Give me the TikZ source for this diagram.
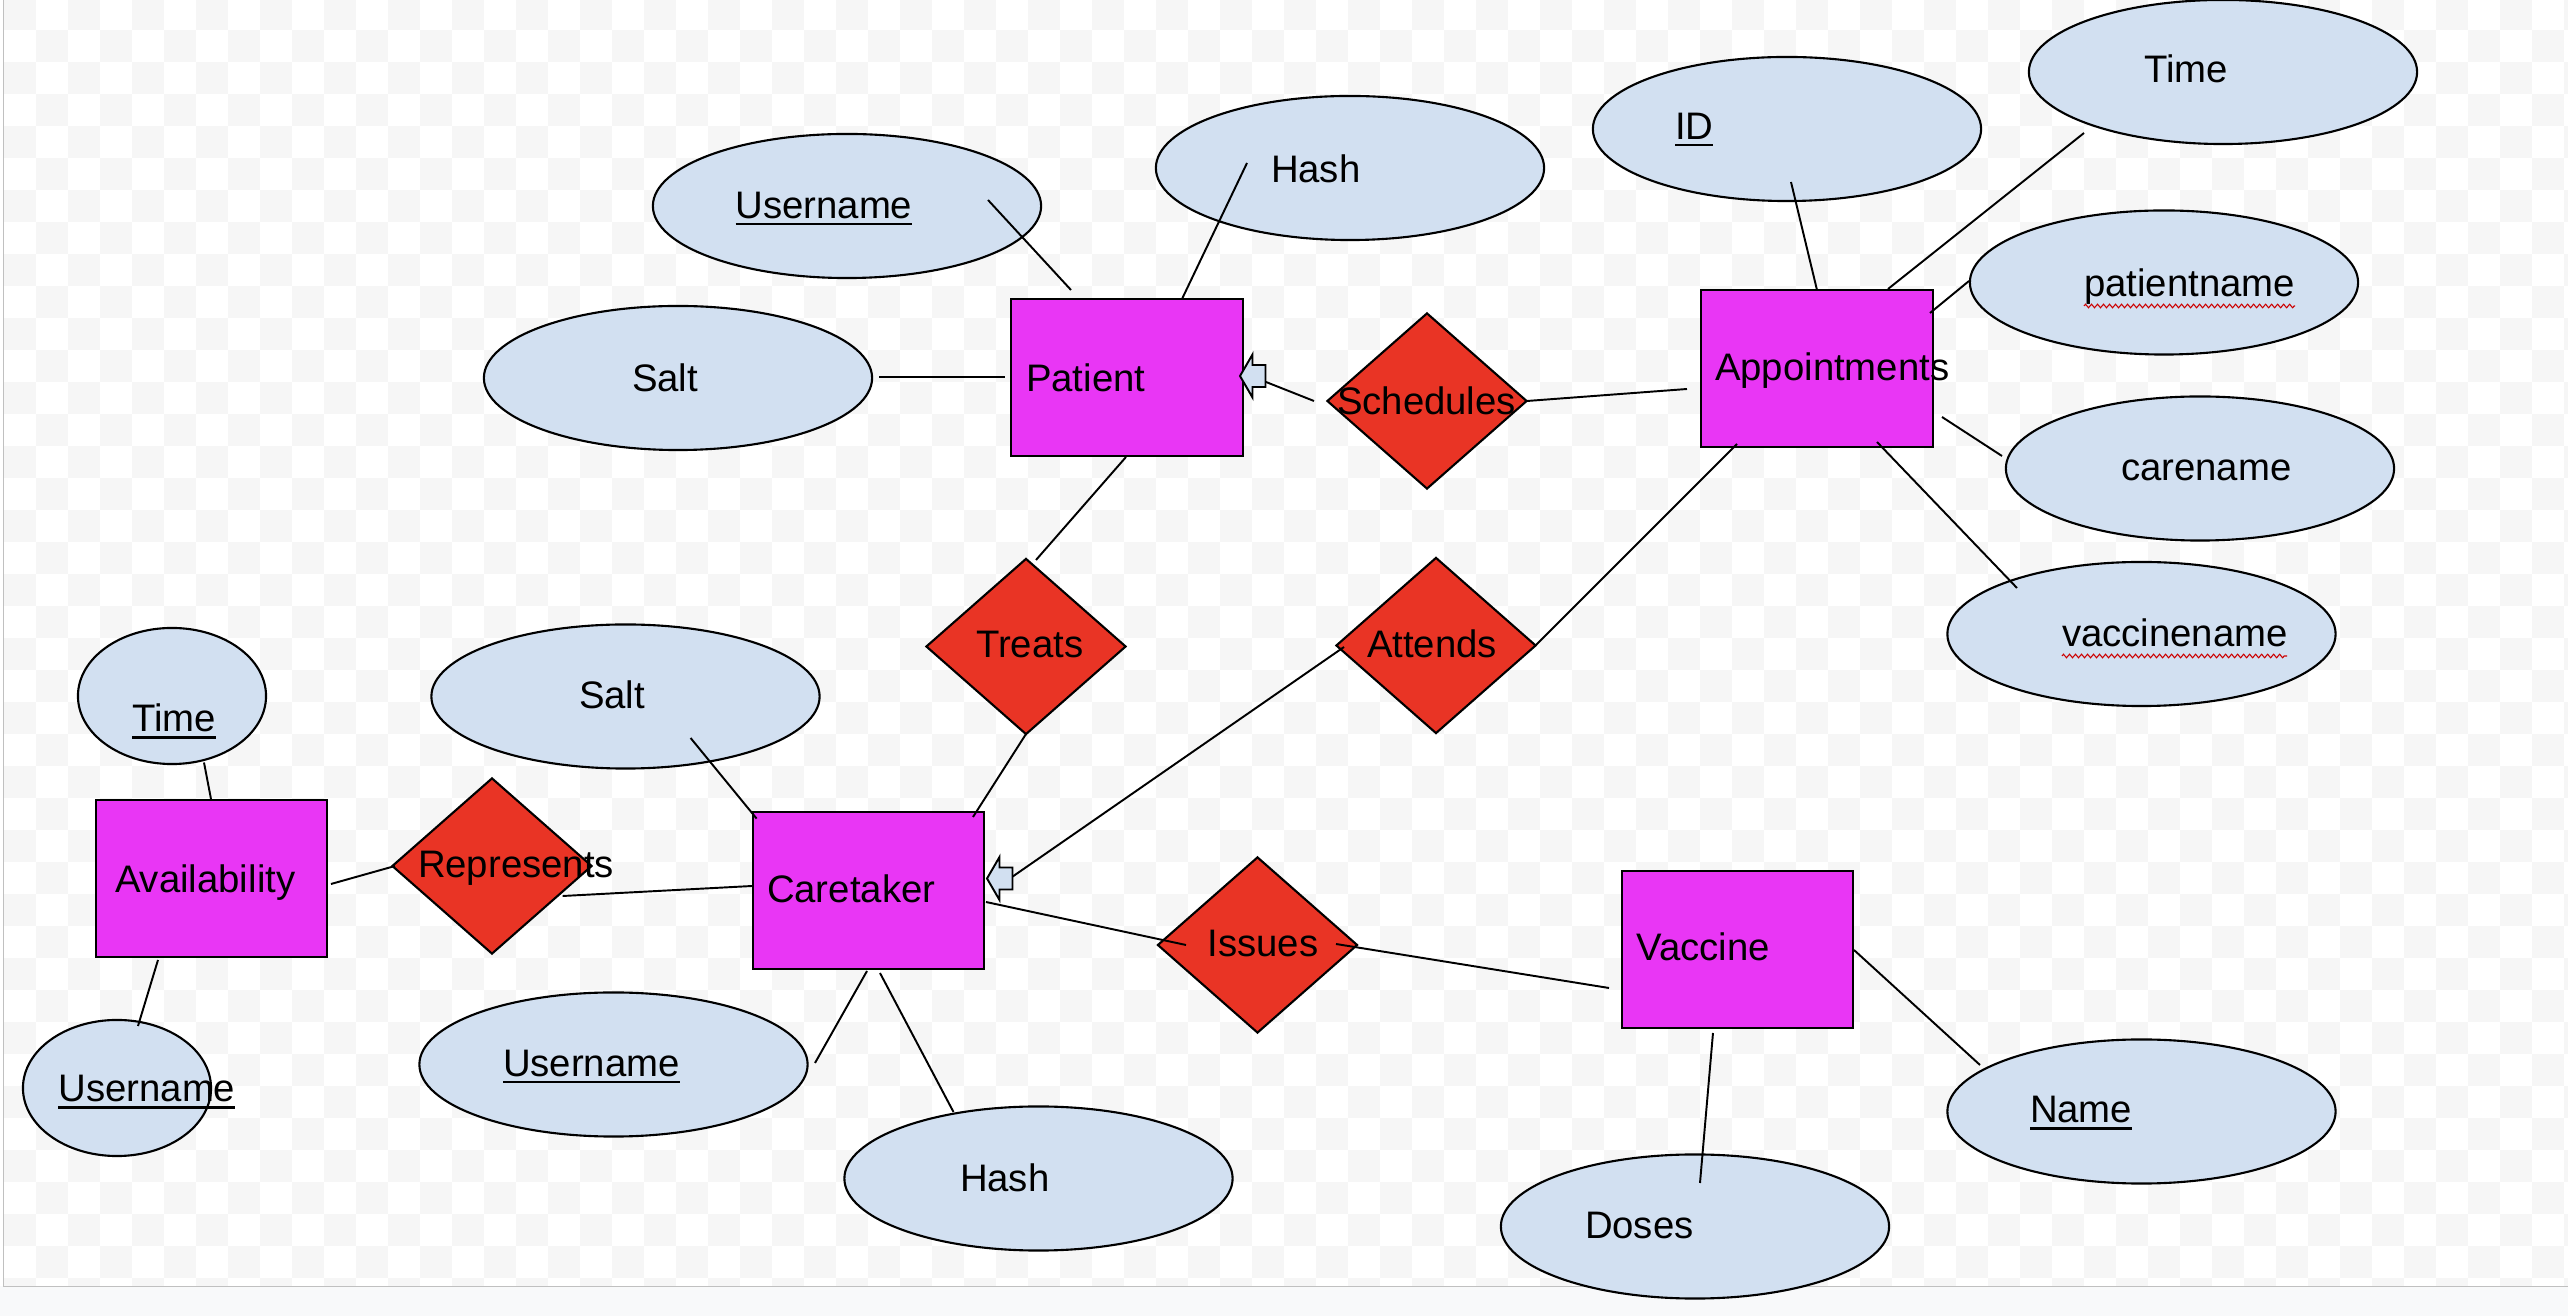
\documentclass[tikz,border=0pt]{standalone}
\usepackage{fontspec}
\setmainfont{Liberation Sans}
\usetikzlibrary{shapes.geometric,decorations.pathmorphing}
\definecolor{entc}{HTML}{E936F5}
\definecolor{relc}{HTML}{E93425}
\definecolor{attc}{HTML}{D2E0F1}
\definecolor{chk}{HTML}{F6F6F6}
\definecolor{pagebg}{HTML}{F8F9FA}
\definecolor{frame}{HTML}{C0C0C0}
\newcommand\keyul[1]{\setbox0\hbox{#1}\rlap{\rule[-0.065cm]{\wd0}{0.028cm}}\box0}
\tikzset{
  ent/.style={draw=black, fill=entc, minimum width=2.31cm, minimum height=1.57cm, inner sep=0pt, line width=0.6pt},
  rel/.style={diamond, draw=black, fill=relc, minimum width=2.0cm, minimum height=1.76cm, inner sep=0pt, line width=0.6pt},
  att/.style={ellipse, draw=black, fill=attc, minimum width=3.88cm, minimum height=1.44cm, inner sep=0pt, line width=0.6pt},
  attsm/.style={att, minimum width=1.88cm, minimum height=1.36cm},
  lbl/.style={anchor=base west, inner sep=0pt, outer sep=0pt, font=\fontsize{10.9}{13}\selectfont},
  conn/.style={line width=0.55pt, black},
  blk/.style={fill=attc, draw=black, line width=0.55pt, line join=miter},
  squig/.style={red!80!black, line width=0.3pt, decorate, decoration={zigzag, segment length=0.06cm, amplitude=0.018cm}}
}
\newcommand\blockarrow[1]{\filldraw[blk] (#1) -- ++(12.5,-21.5) -- ++(0,10.5) -- ++(13,0) -- ++(0,22) -- ++(-13,0) -- ++(0,10.5) -- cycle;}
\begin{document}
\begin{tikzpicture}[x=0.01cm, y=-0.01cm]
\useasboundingbox (0,0) rectangle (2568,1316);
% background
\fill[pagebg] (0,0) rectangle (2568,1316);
\fill[white] (0,0) rectangle (2568,1286);
\begin{scope}
\clip (3,0) rectangle (2568,1286);
\foreach \j in {0,...,40} {
  \pgfmathtruncatemacro\sta{mod(\j,2)}
  \pgfmathtruncatemacro\stb{\sta+2}
  \foreach \i in {\sta,\stb,...,80} {
    \fill[chk] ({4+32*\i},{-2+32*\j}) rectangle ++(32,32);
  }
}
\end{scope}
\draw[frame, line width=0.4pt] (3.3,0) -- (3.3,1286.5) -- (2568,1286.5);

% entities
\node[ent] (patient) at (1127,377.5) {};
\node[ent] (appt) at (1817,368.5) {};
\node[ent] (avail) at (211.5,878.5) {};
\node[ent] (care) at (868.5,890.5) {};
\node[ent] (vacc) at (1737.5,949.5) {};

% relationships
\node[rel] (sched) at (1427,401) {};
\node[rel] (treats) at (1026,646.5) {};
\node[rel] (attends) at (1436,645.5) {};
\node[rel] (repr) at (492,866) {};
\node[rel] (issues) at (1257.5,945) {};

% attributes
\node[att] (uP) at (847,206) {};
\node[att] (hP) at (1350,168) {};
\node[att] (sP) at (678,378) {};
\node[att] (idA) at (1787,129) {};
\node[att] (tA) at (2223,72) {};
\node[att] (pn) at (2164,282.5) {};
\node[att] (cn) at (2200,468.5) {};
\node[att] (vn) at (2141.5,634) {};
\node[att] (sC) at (625.5,696.5) {};
\node[att] (uC) at (613.5,1064.5) {};
\node[att] (hC) at (1038.5,1178.5) {};
\node[att] (dV) at (1695,1226.5) {};
\node[att] (nV) at (2141.5,1111.5) {};
\node[attsm] (tAv) at (172,696) {};
\node[attsm] (uAv) at (117,1088) {};

% connector end points
\coordinate (uP1) at (988,200);   \coordinate (uP2) at (1071,290);
\coordinate (hP1) at (1247,163);  \coordinate (hP2) at (1182,299);
\coordinate (sP1) at (879,377);   \coordinate (sP2) at (1005,377);
\coordinate (pt1) at (1126,457);  \coordinate (pt2) at (1036,560);
\coordinate (tc1) at (1026,734);  \coordinate (tc2) at (973,817);
\coordinate (sp1) at (1314,401);  \coordinate (sp2) at (1266,382);
\coordinate (patip) at (1240,376);
\coordinate (sa1) at (1527,401);  \coordinate (sa2) at (1687,389);
\coordinate (id1) at (1791,182);  \coordinate (id2) at (1817,290);
\coordinate (ta1) at (2084,133);  \coordinate (ta2) at (1888,289);
\coordinate (pn1) at (1969,281);  \coordinate (pn2) at (1930,313);
\coordinate (cn1) at (1942,417);  \coordinate (cn2) at (2002,456);
\coordinate (vn1) at (1877,442);  \coordinate (vn2) at (2017,588);
\coordinate (aa1) at (1536,645);  \coordinate (aa2) at (1737,444);
\coordinate (ac1) at (1344,647);  \coordinate (ac2) at (1012,877);
\coordinate (catip) at (987,878.5);
\coordinate (ci1) at (986,902);   \coordinate (ci2) at (1186,945);
\coordinate (iv1) at (1336,944);  \coordinate (iv2) at (1609,988);
\coordinate (vd1) at (1713,1033); \coordinate (vd2) at (1700,1183);
\coordinate (vnm1) at (1854,950); \coordinate (vnm2) at (1980,1065);
\coordinate (ch1) at (880,973);   \coordinate (ch2) at (953.5,1112);
\coordinate (cu1) at (867,971);   \coordinate (cu2) at (815,1063);
\coordinate (cs1) at (756.6,818.6); \coordinate (cs2) at (690.6,738);
\coordinate (rc1) at (562.6,896); \coordinate (rc2) at (752,886);
\coordinate (ar1) at (331,884);   \coordinate (ar2) at (395,866);
\coordinate (ta3) at (204,762.5); \coordinate (ta4) at (211,799);
\coordinate (au1) at (158,960);   \coordinate (au2) at (138,1026);

% connectors
\draw[conn] (uP1) -- (uP2);
\draw[conn] (hP1) -- (hP2);
\draw[conn] (sP1) -- (sP2);
\draw[conn] (pt1) -- (pt2);
\draw[conn] (tc1) -- (tc2);
\draw[conn] (sp1) -- (sp2);
\blockarrow{patip}
\draw[conn] (sa1) -- (sa2);
\draw[conn] (id1) -- (id2);
\draw[conn] (ta1) -- (ta2);
\draw[conn] (pn1) -- (pn2);
\draw[conn] (cn1) -- (cn2);
\draw[conn] (vn1) -- (vn2);
\draw[conn] (aa1) -- (aa2);
\draw[conn] (ac1) -- (ac2);
\blockarrow{catip}
\draw[conn] (ci1) -- (ci2);
\draw[conn] (iv1) -- (iv2);
\draw[conn] (vd1) -- (vd2);
\draw[conn] (vnm1) -- (vnm2);
\draw[conn] (ch1) -- (ch2);
\draw[conn] (cu1) -- (cu2);
\draw[conn] (cs1) -- (cs2);
\draw[conn] (rc1) -- (rc2);
\draw[conn] (ar1) -- (ar2);
\draw[conn] (ta3) -- (ta4);
\draw[conn] (au1) -- (au2);

% texts
\node[lbl] (tUP) at (735.5,219) {\keyul{Username}};
\node[lbl] (tSP) at (632,392) {Salt};
\node[lbl] (tHP) at (1271,183) {Hash};
\node[lbl] (tPat) at (1026,392) {Patient};
\node[lbl] (tID) at (1675,140) {\keyul{ID}};
\node[lbl] (tTA) at (2144,83) {Time};
\node[lbl] (tPN) at (2084,297) {patientname};
\node[lbl] (tCN) at (2121,481) {carename};
\node[lbl] (tVN) at (2062,647) {vaccinename};
\node[lbl] (tApp) at (1715,381) {Appointments};
\node[lbl] (tSch) at (1337,415) {Schedules};
\node[lbl] (tTr) at (976,658) {Treats};
\node[lbl] (tAt) at (1367,658) {Attends};
\node[lbl] (tTAv) at (132,732) {\keyul{Time}};
\node[lbl] (tAv) at (115,893) {Availability};
\node[lbl] (tUAv) at (58.5,1102) {\keyul{Username}};
\node[lbl] (tRep) at (418,878) {Represents};
\node[lbl] (tSC) at (579,709) {Salt};
\node[lbl] (tCar) at (767,903) {Caretaker};
\node[lbl] (tUC) at (503,1077) {\keyul{Username}};
\node[lbl] (tIss) at (1207.5,957) {Issues};
\node[lbl] (tVac) at (1636.5,961) {Vaccine};
\node[lbl] (tHC) at (960,1192) {Hash};
\node[lbl] (tDos) at (1585,1239) {Doses};
\node[lbl] (tName) at (2030,1123) {\keyul{Name}};

% spell-check marks
\draw[squig] (2084,306) -- (2295,306);
\draw[squig] (2062,656) -- (2287,656);
\end{tikzpicture}
\end{document}
